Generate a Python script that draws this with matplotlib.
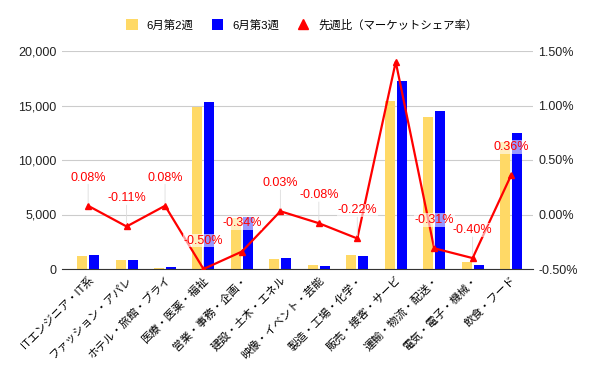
import matplotlib
matplotlib.use("Agg")
import matplotlib.pyplot as plt
import numpy as np
from matplotlib.lines import Line2D
from matplotlib.patches import Patch
from matplotlib.ticker import FuncFormatter

plt.rcParams['font.family'] = ['Liberation Sans', 'Noto Sans CJK JP', 'DejaVu Sans']

categories = ["ITエンジニア・IT系", "ファッション・アパレ", "ホテル・旅館・ブライ", "医療・医薬・福祉",
              "営業・事務・企画・", "建設・土木・エネル", "映像・イベント・芸能", "製造・工場・化学・",
              "販売・接客・サービ", "運輸・物流・配送・", "電気・電子・機械・", "飲食・フード"]
week2 = [1220, 850, 120, 14850, 4720, 950, 400, 1320, 15400, 13930, 670, 11630]
week3 = [1320, 870, 210, 15300, 4750, 1040, 310, 1230, 17240, 14480, 400, 12460]
share_change = [0.08, -0.11, 0.08, -0.50, -0.34, 0.03, -0.08, -0.22, 1.40, -0.31, -0.40, 0.36]
show_label = [True, True, True, True, True, True, True, True, False, True, True, True]

series_names = ["6月第2週", "6月第3週", "先週比（マーケットシェア率）"]
yellow = "#FFD966"
blue = "#0000FF"
red = "#FF0000"

fig = plt.figure(figsize=(6, 3.71), dpi=100)
ax = fig.add_axes([62/600, 1-269/371, (533-62)/600, (269-51)/371])
ax2 = ax.twinx()

x = np.arange(len(categories))
w = 0.26
off = 0.156
ax.bar(x - off, week2, width=w, color=yellow, zorder=2)
ax.bar(x + off, week3, width=w, color=blue, zorder=2)

ax.set_ylim(0, 20000)
ax.set_yticks([0, 5000, 10000, 15000, 20000])
ax.yaxis.set_major_formatter(FuncFormatter(lambda v, p: f"{int(v):,}"))
ax.grid(axis='y', color='#CCCCCC', linewidth=0.8, zorder=0)
ax.set_axisbelow(True)
ax.set_xlim(-0.68, 11.57)
ax.set_xticks(x)
ax.set_xticklabels(categories, rotation=45, ha='right', rotation_mode='anchor', fontsize=8)
ax.tick_params(axis='x', length=0, pad=4)
ax.tick_params(axis='y', length=0, labelsize=9, colors='#222222', pad=4)
for s in ['top', 'right', 'left']:
    ax.spines[s].set_visible(False)
ax.spines['bottom'].set_color('#333333')

ax2.plot(x, share_change, color=red, linewidth=1.6, marker='^', markersize=4, zorder=5)
ax2.set_ylim(-0.5, 1.5)
ax2.set_yticks([-0.5, 0, 0.5, 1.0, 1.5])
ax2.yaxis.set_major_formatter(FuncFormatter(lambda v, p: f"{v:.2f}%"))
ax2.tick_params(axis='y', length=0, labelsize=9, colors='#222222', pad=4)
for s in ['top', 'right', 'left', 'bottom']:
    ax2.spines[s].set_visible(False)

for xi, v, sh in zip(x, share_change, show_label):
    if not sh:
        continue
    ax2.annotate(f"{v:.2f}%", (xi, v), xytext=(0, 16), textcoords='offset points',
                 ha='center', va='bottom', color=red, fontsize=9,
                 bbox=dict(boxstyle='square,pad=0.05', facecolor='white', edgecolor='none', alpha=0.6),
                 arrowprops=dict(arrowstyle='-', color='#DDDDDD', linewidth=0.6, shrinkA=0, shrinkB=2),
                 zorder=6)

handles = [Patch(facecolor=yellow, edgecolor='none'),
           Patch(facecolor=blue, edgecolor='none'),
           Line2D([], [], color='none', marker='^', markerfacecolor=red, markeredgecolor=red, markersize=7)]
fig.legend(handles, series_names, loc='center', bbox_to_anchor=(0.503, 0.933), ncol=3,
           frameon=False, fontsize=8.2, handlelength=1.0, handleheight=1.0, columnspacing=1.6,
           handletextpad=0.8)

fig.savefig("out.png", dpi=100)
